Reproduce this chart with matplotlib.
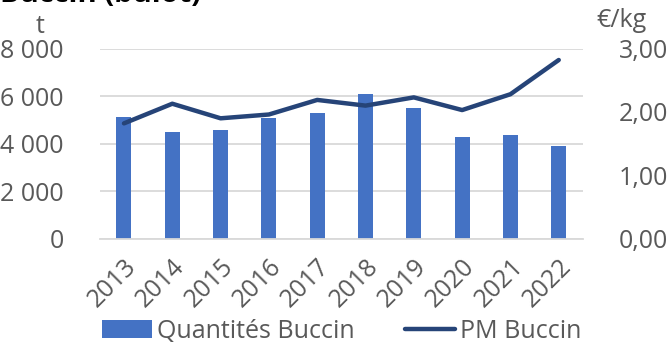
import numpy as np
import matplotlib.pyplot as plt
from matplotlib.ticker import FuncFormatter

plt.rcParams['font.family'] = ['Open Sans', 'DejaVu Sans']

annees = ['2013', '2014', '2015', '2016', '2017', '2018', '2019', '2020', '2021', '2022']
quantites = [5140, 4480, 4560, 5070, 5290, 6100, 5500, 4270, 4350, 3900]
prix_moyen = [1.82, 2.13, 1.90, 1.96, 2.19, 2.10, 2.23, 2.03, 2.28, 2.82]

gris = '#595959'
bleu = '#4472C4'
marine = '#264478'

fig = plt.figure(figsize=(6.7, 3.47), dpi=100)
ax = fig.add_axes([0.149, 0.312, 0.721, 0.548])
ax2 = ax.twinx()

x = np.arange(len(annees))
ax.bar(x, quantites, 0.31, color=bleu, label='Quantités Buccin', zorder=2)
ax2.plot(x, prix_moyen, color=marine, lw=3.2, solid_capstyle='round', label='PM Buccin')

ax.set_ylim(0, 8000)
ax.set_yticks([0, 2000, 4000, 6000, 8000])
ax.yaxis.set_major_formatter(FuncFormatter(lambda v, p: f"{int(v):,}".replace(',', ' ')))
ax2.set_ylim(0, 3)
ax2.set_yticks([0, 1, 2, 3])
ax2.yaxis.set_major_formatter(FuncFormatter(lambda v, p: f"{v:.2f}".replace('.', ',')))
ax.set_xlim(-0.5, len(annees) - 0.5)
ax.set_xticks(x)
ax.set_xticklabels(annees, rotation=45, ha='right', rotation_mode='anchor')

ax.grid(axis='y', color='#d9d9d9', lw=1.3, zorder=0)
ax.set_axisbelow(True)
for a in (ax, ax2):
    for s in a.spines.values():
        s.set_visible(False)
    a.tick_params(length=0, labelsize=18, colors=gris)
ax.spines['bottom'].set_visible(True)
ax.spines['bottom'].set_color('#d9d9d9')
ax.spines['bottom'].set_linewidth(1.3)
ax.tick_params(axis='y', pad=26)
ax.tick_params(axis='x', pad=11)
ax2.tick_params(axis='y', pad=26)

fig.text(0.06, 0.925, 't', fontsize=18, color=gris, ha='center', va='center')
fig.text(0.928, 0.94, '€/kg', fontsize=18, color=gris, ha='center', va='center')
fig.text(0.0, 0.993, 'Buccin (bulot)', fontsize=21, fontweight='bold', color='black',
         ha='left', va='baseline')

h1, l1 = ax.get_legend_handles_labels()
h2, l2 = ax2.get_legend_handles_labels()
fig.legend(h1 + h2, l1 + l2, loc='center', bbox_to_anchor=(0.51, 0.045), ncol=2,
           frameon=False, fontsize=18, labelcolor=gris, handlelength=2.0,
           handletextpad=0.2, columnspacing=2.0)

fig.savefig('out.png', dpi=100)
